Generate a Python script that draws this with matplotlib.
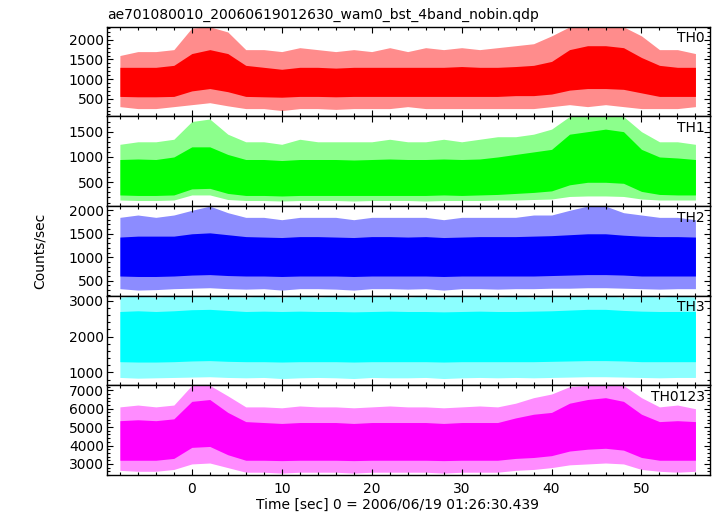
import matplotlib.pyplot as plt
from matplotlib.ticker import MultipleLocator

plt.rcParams['font.family'] = ['DejaVu Sans']

# time grid of the envelope readings (sec)
times = [-8, -6, -4, -2, 0, 2, 4, 6, 8, 10, 12, 14, 16, 18, 20, 22, 24, 26,
         28, 30, 32, 34, 36, 38, 40, 42, 44, 46, 48, 50, 52, 54, 56]

# envelopes: outer spikes (hi/lo) and dense core (hi/lo)
th0_hi = [1600, 1700, 1700, 1750, 2300, 2330, 2200, 1750, 1750, 1700, 1800, 1750, 1700, 1750, 1700, 1800, 1700,
          1800, 1750, 1800, 1750, 1800, 1850, 1900, 2100, 2330, 2330, 2330, 2330, 2100, 1750, 1750, 1650]
th0_core_hi = [1300, 1300, 1300, 1350, 1650, 1750, 1650, 1350, 1300, 1250, 1300, 1300, 1280, 1300, 1300, 1300, 1300,
               1300, 1300, 1320, 1300, 1300, 1320, 1350, 1450, 1750, 1850, 1850, 1800, 1550, 1350, 1300, 1300]
th0_core_lo = [560, 550, 550, 560, 700, 760, 680, 560, 550, 540, 560, 560, 550, 560, 560, 560, 560,
               560, 560, 560, 560, 560, 580, 580, 620, 720, 760, 760, 740, 650, 560, 560, 560]
th0_lo = [300, 250, 250, 300, 350, 400, 320, 250, 250, 200, 250, 250, 230, 250, 250, 250, 300,
          250, 250, 250, 250, 250, 250, 250, 300, 350, 300, 350, 300, 250, 250, 250, 300]

th1_hi = [1250, 1300, 1300, 1350, 1700, 1750, 1450, 1300, 1300, 1250, 1350, 1300, 1300, 1300, 1300, 1350, 1300,
          1300, 1350, 1300, 1350, 1400, 1400, 1450, 1550, 1800, 1800, 1800, 1800, 1500, 1300, 1300, 1250]
th1_core_hi = [950, 960, 950, 1000, 1200, 1200, 1050, 950, 950, 930, 950, 950, 950, 940, 950, 960, 950,
               950, 960, 950, 960, 1000, 1050, 1100, 1150, 1450, 1500, 1550, 1500, 1150, 1000, 980, 950]
th1_core_lo = [250, 240, 240, 250, 370, 380, 280, 240, 240, 230, 240, 240, 240, 240, 240, 240, 240,
               240, 250, 240, 250, 260, 280, 300, 330, 450, 500, 500, 480, 320, 260, 250, 250]
th1_lo = [150, 140, 140, 150, 250, 250, 160, 140, 140, 130, 140, 140, 140, 130, 140, 140, 140,
          130, 140, 140, 140, 150, 150, 160, 170, 220, 230, 230, 220, 170, 150, 150, 150]

th2_hi = [1850, 1900, 1850, 1900, 2000, 2090, 1950, 1850, 1850, 1800, 1850, 1850, 1850, 1800, 1850, 1850, 1850,
          1850, 1800, 1850, 1850, 1850, 1850, 1900, 1900, 2000, 2090, 2090, 1950, 1900, 1850, 1850, 1800]
th2_core_hi = [1430, 1450, 1450, 1450, 1500, 1520, 1480, 1440, 1430, 1420, 1440, 1440, 1430, 1420, 1440, 1440, 1430,
               1440, 1420, 1430, 1440, 1440, 1440, 1450, 1460, 1480, 1500, 1500, 1470, 1450, 1440, 1440, 1430]
th2_core_lo = [600, 590, 590, 600, 620, 630, 610, 600, 600, 590, 600, 600, 600, 590, 600, 600, 600,
               600, 590, 600, 600, 600, 600, 600, 610, 620, 630, 630, 620, 600, 600, 600, 600]
th2_lo = [330, 300, 310, 330, 340, 350, 330, 320, 330, 300, 330, 330, 320, 300, 330, 330, 320,
          330, 300, 330, 330, 320, 330, 330, 340, 340, 350, 350, 340, 330, 320, 330, 330]

th3_hi = [3100, 3140, 3100, 3140, 3140, 3140, 3140, 3100, 3140, 3100, 3140, 3100, 3140, 3100, 3140, 3140, 3100,
          3140, 3100, 3140, 3140, 3100, 3140, 3100, 3140, 3140, 3140, 3140, 3100, 3140, 3100, 3140, 3100]
th3_core_hi = [2700, 2720, 2700, 2720, 2750, 2760, 2730, 2700, 2710, 2700, 2710, 2700, 2700, 2690, 2700, 2710, 2700,
               2700, 2690, 2700, 2710, 2700, 2700, 2710, 2720, 2740, 2760, 2760, 2730, 2710, 2700, 2700, 2700]
th3_core_lo = [1300, 1290, 1290, 1300, 1320, 1330, 1310, 1300, 1300, 1290, 1300, 1300, 1300, 1290, 1300, 1300, 1300,
               1300, 1290, 1300, 1300, 1300, 1300, 1300, 1310, 1320, 1330, 1330, 1320, 1300, 1300, 1300, 1300]
th3_lo = [860, 840, 850, 860, 870, 880, 860, 850, 860, 830, 850, 860, 850, 830, 860, 850, 850,
          860, 830, 850, 860, 850, 860, 850, 860, 870, 880, 880, 870, 860, 850, 860, 860]

th0123_hi = [6100, 6200, 6100, 6200, 7270, 7270, 6700, 6100, 6100, 6050, 6150, 6100, 6100, 6050, 6100, 6150, 6100,
             6100, 6050, 6100, 6150, 6100, 6300, 6600, 6800, 7200, 7270, 7270, 7270, 6600, 6100, 6200, 6000]
th0123_core_hi = [5350, 5400, 5350, 5450, 6400, 6500, 5800, 5300, 5250, 5200, 5250, 5250, 5250, 5200, 5250, 5250, 5250,
                  5250, 5200, 5250, 5250, 5250, 5500, 5700, 5800, 6300, 6500, 6600, 6400, 5700, 5300, 5350, 5300]
th0123_core_lo = [3200, 3200, 3200, 3300, 3900, 3950, 3500, 3200, 3200, 3180, 3200, 3200, 3200, 3180, 3200, 3200, 3200,
                  3200, 3180, 3200, 3200, 3200, 3300, 3350, 3450, 3700, 3800, 3850, 3750, 3350, 3200, 3200, 3200]
th0123_lo = [2650, 2600, 2600, 2700, 3000, 3050, 2800, 2550, 2550, 2500, 2550, 2550, 2550, 2500, 2550, 2550, 2550,
             2550, 2500, 2550, 2550, 2550, 2650, 2700, 2800, 2950, 3000, 3050, 3000, 2700, 2600, 2550, 2600]

names = ['TH0', 'TH1', 'TH2', 'TH3', 'TH0123']
colors = ['#ff0000', '#00ff00', '#0000ff', '#00ffff', '#ff00ff']
series = [(th0_hi, th0_core_hi, th0_core_lo, th0_lo),
          (th1_hi, th1_core_hi, th1_core_lo, th1_lo),
          (th2_hi, th2_core_hi, th2_core_lo, th2_lo),
          (th3_hi, th3_core_hi, th3_core_lo, th3_lo),
          (th0123_hi, th0123_core_hi, th0123_core_lo, th0123_lo)]
ylims = [(50, 2330), (30, 1800), (180, 2090), (640, 3140), (2400, 7270)]
ysteps = [500, 500, 500, 1000, 1000]

fig, axes = plt.subplots(5, 1, sharex=True, figsize=(7.17, 5.16), dpi=100,
                         gridspec_kw={'hspace': 0})
fig.subplots_adjust(left=0.149, right=0.990, top=0.948, bottom=0.0795)

for ax, name, color, (hi, chi, clo, lo), ylim, step in zip(axes, names, colors, series, ylims, ysteps):
    ax.fill_between(times, lo, hi, color=color, alpha=0.45, linewidth=0)
    ax.fill_between(times, clo, chi, color=color, linewidth=0)
    ax.set_ylim(*ylim)
    ax.set_xlim(-9.45, 57.6)
    ax.yaxis.set_major_locator(MultipleLocator(step))
    ax.yaxis.set_minor_locator(MultipleLocator(step / 5))
    ax.xaxis.set_major_locator(MultipleLocator(10))
    ax.xaxis.set_minor_locator(MultipleLocator(2))
    ax.tick_params(which='both', direction='in', top=True, right=True, labelsize=10, pad=2)
    ax.tick_params(which='major', length=4.5, width=0.8)
    ax.tick_params(which='minor', length=2.5, width=0.8)
    for sp in ax.spines.values():
        sp.set_linewidth(1.0)
    ax.text(0.992, 0.95, name, transform=ax.transAxes, ha='right', va='top', fontsize=10)

axes[-1].tick_params(axis='x', pad=5)
fig.text(0.149, 0.972, 'ae701080010_20060619012630_wam0_bst_4band_nobin.qdp',
         ha='left', va='center', fontsize=10)
fig.text(0.056, 0.514, 'Counts/sec', rotation=90, ha='center', va='center', fontsize=10)
fig.text(0.555, 0.021, 'Time [sec] 0 = 2006/06/19 01:26:30.439', ha='center', va='center', fontsize=10)

plt.savefig('out.png', dpi=100)
plt.close()
